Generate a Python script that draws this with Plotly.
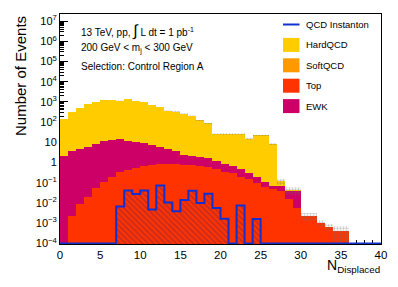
import plotly.graph_objects as go

# ---------------- data ----------------
bin_lo = list(range(40))  # bin lower edges, width 1

hardqcd = [139, 309, 488, 772, 1002, 1218, 1256, 1161, 1409, 1120,
           1001, 684, 565, 370, 320, 256, 203, 124, 87.4, 25.2,
           25.6, 25.8, 25.9, 15.1, 22.0, 22.1, 7.93, 0.045, 0.0071, 0.0071,
           0, 0, 0, 0, 0, 0, 0, 0, 0, 0]
softqcd = [0, 0, 0, 0, 0, 0, 0, 0, 0, 0,
           0, 0, 0, 0, 0, 0, 0, 0, 0, 0,
           0, 0, 0, 0, 0, 0, 0, 0, 0, 0,
           0, 0, 0, 0, 0, 0, 0, 0, 0, 0]
ewk = [2.15, 3.80, 4.76, 6.18, 8.35, 11.8, 13.6, 13.5, 10.6, 9.6,
       8.4, 6.7, 5.1, 3.9, 2.9, 1.63, 1.42, 1.25, 1.03, 0.75,
       0.47, 0.36, 0.26, 0.14, 0.083, 0.046, 0.021, 0.032, 0.0215, 0.0318,
       0, 0, 0, 0, 0, 0, 0, 0, 0, 0]
top = [0, 0.0022, 0.0085, 0.0207, 0.053, 0.111, 0.196, 0.327, 0.436, 0.565,
       0.687, 0.77, 0.86, 0.86, 0.86, 0.77, 0.73, 0.66, 0.58, 0.46,
       0.358, 0.29, 0.203, 0.151, 0.102, 0.065, 0.047, 0.040, 0.016, 0.0057,
       0.0022, 0.0022, 0.00107, 0.00065, 0.00042, 0.00042, 0, 0, 0, 0]
instanton = [0, 0, 0, 0, 0, 0, 0, 0.0066, 0.042, 0.0275,
             0.041, 0.0048, 0.0726, 0.0107, 0.0039, 0.0142, 0.0406, 0.0101, 0.0288, 0.0057,
             0.00167, 0, 0.0074, 0, 0.00163, 0, 0, 0, 0, 0,
             0, 0, 0, 0, 0, 0, 0, 0, 0, 0]
stat_unc = [6, 12, 18, 28, 36, 44, 45, 42, 50, 40,
            36, 26, 22, 15, 13, 11, 9, 7, 5, 2.5,
            2.5, 2.5, 2.5, 1.8, 2.2, 2.2, 1.0, 0.04, 0.02, 0.02,
            0.0009, 0.0009, 0.0004, 0.00024, 0.00034, 0.00034, 0, 0, 0, 0]

x_tick_vals = [0, 5, 10, 15, 20, 25, 30, 35, 40]
y_tick_vals = [1e-4, 1e-3, 1e-2, 1e-1, 1, 10, 1e2, 1e3, 1e4, 1e5, 1e6, 1e7]
y_tick_text = ["10<sup>\u22124</sup>", "10<sup>\u22123</sup>", "10<sup>\u22122</sup>",
               "10<sup>\u22121</sup>", "1", "10", "10<sup>2</sup>", "10<sup>3</sup>",
               "10<sup>4</sup>", "10<sup>5</sup>", "10<sup>6</sup>", "10<sup>7</sup>"]
header_lines = ["13 TeV, pp, <span style='font-size:16px'>\u222b</span> L dt = 1 pb<sup>-1</sup>",
                "200 GeV < m<sub>j</sub> < 300 GeV",
                "Selection: Control Region A"]
legend_labels = ["QCD Instanton", "HardQCD", "SoftQCD", "Top", "EWK"]

# ---------------- styling ----------------
C_HARD, C_SOFT, C_TOP, C_EWK, C_INST = "#FFCC00", "#FF9900", "#FF3300", "#CC0066", "#1030D0"
FONT = "Liberation Sans, Arial, Helvetica, sans-serif"
W, H = 398, 287
ML, MR, MT, MB = 60, 17, 14, 43
PW, PH = W - ML - MR, H - MT - MB
Y_FLOOR = 1e-4


def px2paper(px, py):
    return (px - ML) / PW, (H - MB - py) / PH


centers = [b + 0.5 for b in bin_lo]
cum_top = top
cum_ewk = [a + b for a, b in zip(cum_top, ewk)]
cum_soft = [a + b for a, b in zip(cum_ewk, softqcd)]
cum_hard = [a + b for a, b in zip(cum_soft, hardqcd)]


def nz(v):
    return [x if x > 0 else None for x in v]


fig = go.Figure()
for vals, col in [(cum_hard, C_HARD), (cum_soft, C_SOFT), (cum_ewk, C_EWK), (cum_top, C_TOP)]:
    fig.add_trace(go.Bar(x=centers, y=nz(vals), width=1, marker=dict(color=col, line=dict(width=0)),
                         showlegend=False, hoverinfo="skip"))

# statistical uncertainty band (hatched gray)
band_base = [t - e if e > 0 else None for t, e in zip(cum_hard, stat_unc)]
band_h = [2 * e if e > 0 else None for e in stat_unc]
fig.add_trace(go.Bar(x=centers, y=band_h, base=band_base, width=1,
                     marker=dict(color="rgba(0,0,0,0)", line=dict(width=0),
                                 pattern=dict(shape=".", fgcolor="rgba(110,110,110,0.8)", size=3, solidity=0.45)),
                     showlegend=False, hoverinfo="skip"))

# instanton hatched fill
fig.add_trace(go.Bar(x=centers, y=nz(instanton), width=1,
                     marker=dict(color="rgba(0,0,0,0)", line=dict(width=0),
                                 pattern=dict(shape="\\", fgcolor="rgba(90,30,90,0.7)", size=4, solidity=0.45)),
                     showlegend=False, hoverinfo="skip"))
# instanton outline (step)
step_x = bin_lo + [bin_lo[-1] + 1]
step_y = [max(v, Y_FLOOR) for v in instanton] + [max(instanton[-1], Y_FLOOR)]
fig.add_trace(go.Scatter(x=step_x, y=step_y, mode="lines", line=dict(color=C_INST, width=2, shape="hv"),
                         showlegend=False, hoverinfo="skip"))

fig.update_layout(
    width=W, height=H, margin=dict(l=ML, r=MR, t=MT, b=MB),
    paper_bgcolor="white", plot_bgcolor="white",
    barmode="overlay", bargap=0,
    font=dict(family=FONT, color="black"),
    showlegend=False,
)
fig.update_xaxes(range=[0, 40], tickvals=x_tick_vals, ticks="inside", ticklen=8, tickcolor="black",
                 minor=dict(ticks="inside", ticklen=4, dtick=1, tickcolor="black"),
                 showline=True, linecolor="black", linewidth=1, mirror=True, showgrid=False, zeroline=False,
                 tickfont=dict(size=11.5, family=FONT), layer="below traces")
minor_y = [k * 10 ** e for e in range(-4, 7) for k in range(2, 10)] + [2e7]
fig.update_yaxes(type="log", range=[-4.03, 7.35], tickvals=y_tick_vals, ticktext=y_tick_text,
                 ticks="inside", ticklen=8, tickcolor="black",
                 minor=dict(ticks="inside", ticklen=4, tickvals=minor_y, tickcolor="black"),
                 showline=True, linecolor="black", linewidth=1, mirror=True, showgrid=False, zeroline=False,
                 tickfont=dict(size=11, family=FONT), layer="below traces")

ann = []
# y title
x0, _ = px2paper(20, 0)
ann.append(dict(text="Number of Events", xref="paper", yref="paper", x=x0, y=1.0, xanchor="center",
                yanchor="top", textangle=-90, showarrow=False, font=dict(size=15, family=FONT)))
# x title
xt, yt = px2paper(382, 266)
ann.append(dict(text="N<sub>Displaced</sub>", xref="paper", yref="paper", x=xt, y=yt, xanchor="right",
                yanchor="middle", showarrow=False, font=dict(size=14, family=FONT)))
# header text
for line, py in zip(header_lines, [30.5, 48.5, 66.5]):
    xp, yp = px2paper(79, py)
    ann.append(dict(text=line, xref="paper", yref="paper", x=xp, y=yp, xanchor="left", yanchor="middle",
                    showarrow=False, font=dict(size=10, family=FONT)))

# manual legend
shapes = []
leg_colors = [C_INST, C_HARD, C_SOFT, C_TOP, C_EWK]
for i, (lab, col) in enumerate(zip(legend_labels, leg_colors)):
    py = 24.5 + i * 20.4
    if i == 0:
        a0, b0 = px2paper(283, py)
        a1, _ = px2paper(299.5, py)
        shapes.append(dict(type="line", xref="paper", yref="paper", x0=a0, x1=a1, y0=b0, y1=b0,
                           line=dict(color=col, width=2)))
    else:
        a0, b0 = px2paper(283, py + 7)
        a1, b1 = px2paper(299.5, py - 7)
        shapes.append(dict(type="rect", xref="paper", yref="paper", x0=a0, x1=a1, y0=b0, y1=b1,
                           fillcolor=col, line=dict(width=0)))
    xp, yp = px2paper(303.5, py)
    ann.append(dict(text=lab, xref="paper", yref="paper", x=xp, y=yp, xanchor="left", yanchor="middle",
                    showarrow=False, font=dict(size=9.5, family=FONT)))

fig.update_layout(annotations=ann, shapes=shapes)
fig.write_html("out.html", config={"displayModeBar": False},
               post_script="document.body.style.margin='0px';")
